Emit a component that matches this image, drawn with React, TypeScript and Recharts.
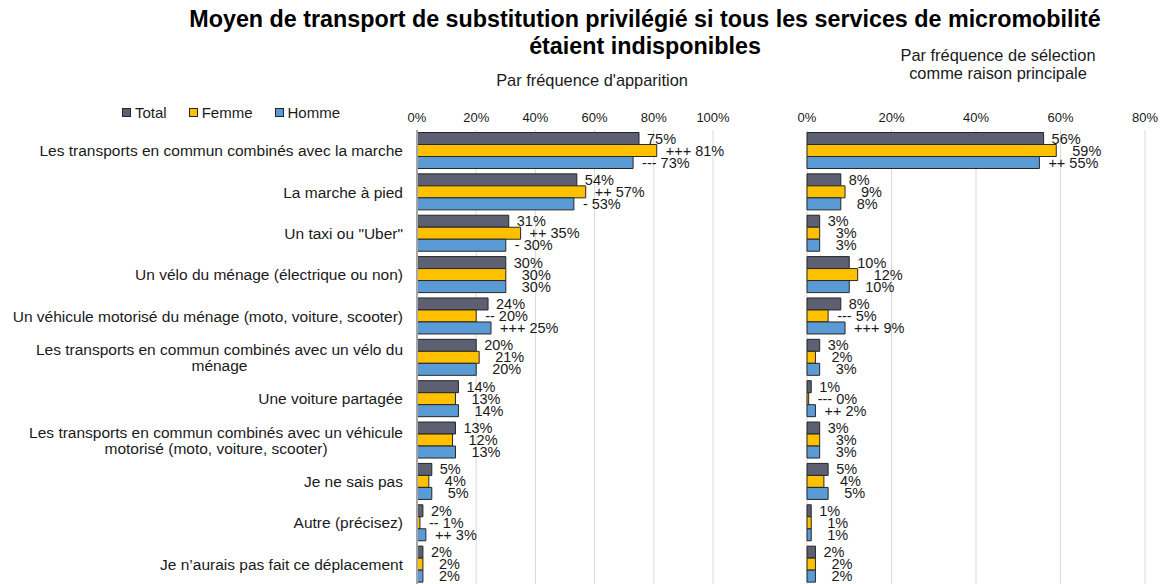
import { Bar, BarChart, CartesianGrid, LabelList, XAxis, YAxis } from "recharts";

const categories = [
  "Les transports en commun combinés avec la marche",
  "La marche à pied",
  'Un taxi ou "Uber"',
  "Un vélo du ménage (électrique ou non)",
  "Un véhicule motorisé du ménage (moto, voiture, scooter)",
  "Les transports en commun combinés avec un vélo du|ménage",
  "Une voiture partagée",
  "Les transports en commun combinés avec un véhicule|motorisé (moto, voiture, scooter)",
  "Je ne sais pas",
  "Autre (précisez)",
  "Je n’aurais pas fait ce déplacement",
];

// Par fréquence d'apparition
const apparitionTotal = [75, 54, 31, 30, 24, 20, 14, 13, 5, 2, 2];
const apparitionFemme = [81, 57, 35, 30, 20, 21, 13, 12, 4, 1, 2];
const apparitionHomme = [73, 53, 30, 30, 25, 20, 14, 13, 5, 3, 2];
const apparitionFemmeSig = ["+++", "++", "++", "", "--", "", "", "", "", "--", ""];
const apparitionHommeSig = ["---", "-", "-", "", "+++", "", "", "", "", "++", ""];

// Par fréquence de sélection comme raison principale
const principaleTotal = [56, 8, 3, 10, 8, 3, 1, 3, 5, 1, 2];
const principaleFemme = [59, 9, 3, 12, 5, 2, 0.4, 3, 4, 1, 2];
const principaleHomme = [55, 8, 3, 10, 9, 3, 2, 3, 5, 1, 2];
const principaleFemmeSig = ["", "", "", "", "---", "", "---", "", "", "", ""];
const principaleHommeSig = ["++", "", "", "", "+++", "", "++", "", "", "", ""];

const leftTicks = [0, 20, 40, 60, 80, 100];
const rightTicks = [0, 20, 40, 60, 80];

const FONT = '"Liberation Sans", Arial, sans-serif';
const C_TOTAL = "#5d6072";
const C_FEMME = "#ffc000";
const C_HOMME = "#5b9bd5";
const STROKE = "#262626";
const CAT_SIZE = 15.5;

const leftData = categories.map((c, i) => ({
  cat: c,
  total: apparitionTotal[i],
  femme: apparitionFemme[i],
  homme: apparitionHomme[i],
}));

const rightData = categories.map((c, i) => ({
  cat: c,
  total: principaleTotal[i],
  femme: principaleFemme[i],
  homme: principaleHomme[i],
}));

let ctx: CanvasRenderingContext2D | null = null;
function measure(text: string) {
  if (!ctx) ctx = document.createElement("canvas").getContext("2d");
  if (!ctx) return text.length * 7.5;
  ctx.font = `${CAT_SIZE}px ${FONT}`;
  return ctx.measureText(text).width;
}

function CategoryTick(props: any) {
  const { x, y, payload } = props;
  const lines = String(payload.value).split("|");
  const right = x - 6;
  if (lines.length === 1) {
    return (
      <text x={right} y={y} textAnchor="end" dominantBaseline="central" fontSize={CAT_SIZE} fill="#1a1a1a" fontFamily={FONT}>
        {lines[0]}
      </text>
    );
  }
  const w = Math.max(...lines.map(measure));
  const cx = right - w / 2;
  return (
    <g>
      {lines.map((l, i) => (
        <text key={i} x={cx} y={y - 8 + i * 16} textAnchor="middle" dominantBaseline="central" fontSize={CAT_SIZE} fill="#1a1a1a" fontFamily={FONT}>
          {l}
        </text>
      ))}
    </g>
  );
}

function makeLabel(sig: string[] | null) {
  return (props: any) => {
    const { x, y, width, height, value, index } = props;
    const s = sig ? sig[index] : "";
    const offset = sig === null ? 8 : s ? 9 : 16;
    const txt = (s ? s + " " : "") + Math.round(value) + "%";
    return (
      <text
        x={x + width + offset}
        y={y + height / 2}
        dominantBaseline="central"
        fontSize={14.5}
        fill="#1a1a1a"
        fontFamily={FONT}
      >
        {txt}
      </text>
    );
  };
}

function Panel(props: {
  data: any[];
  width: number;
  left: number;
  yWidth: number;
  marginLeft: number;
  marginRight: number;
  max: number;
  ticks: number[];
  femmeSig: string[];
  hommeSig: string[];
  showCats: boolean;
}) {
  return (
    <div style={{ position: "absolute", left: props.left, top: 0 }}>
      <BarChart
        width={props.width}
        height={590}
        data={props.data}
        layout="vertical"
        margin={{ top: 100, right: props.marginRight, bottom: 5, left: props.marginLeft }}
        barCategoryGap={2.5}
        barGap={0}
      >
        <CartesianGrid horizontal={false} stroke="#d9d9d9" />
        <XAxis
          type="number"
          orientation="top"
          domain={[0, props.max]}
          ticks={props.ticks}
          tickFormatter={(v) => v + "%"}
          height={30}
          axisLine={false}
          tickLine={false}
          tick={{ fontSize: 13, fill: "#1a1a1a", fontFamily: FONT }}
        />
        <YAxis
          type="category"
          dataKey="cat"
          width={props.yWidth}
          axisLine={{ stroke: "#a6a6a6", strokeWidth: 2 }}
          tickLine={false}
          tick={props.showCats ? <CategoryTick /> : false}
          interval={0}
        />
        <Bar dataKey="total" fill={C_TOTAL} stroke={STROKE} strokeWidth={1} isAnimationActive={false}>
          <LabelList dataKey="total" content={makeLabel(null)} />
        </Bar>
        <Bar dataKey="femme" fill={C_FEMME} stroke={STROKE} strokeWidth={1} isAnimationActive={false}>
          <LabelList dataKey="femme" content={makeLabel(props.femmeSig)} />
        </Bar>
        <Bar dataKey="homme" fill={C_HOMME} stroke={STROKE} strokeWidth={1} isAnimationActive={false}>
          <LabelList dataKey="homme" content={makeLabel(props.hommeSig)} />
        </Bar>
      </BarChart>
    </div>
  );
}

function LegendItem({ color, label }: { color: string; label: string }) {
  return (
    <span style={{ display: "inline-flex", alignItems: "center", marginRight: 22 }}>
      <span
        style={{
          width: 7,
          height: 7,
          background: color,
          border: `1px solid ${STROKE}`,
          marginRight: 4,
          display: "inline-block",
        }}
      />
      {label}
    </span>
  );
}

export default function App() {
  return (
    <div
      style={{
        position: "absolute",
        left: 0,
        top: 0,
        width: 1164,
        height: 584,
        overflow: "hidden",
        background: "#fff",
        fontFamily: FONT,
        color: "#1a1a1a",
      }}
    >
      <Panel
        data={leftData}
        width={790}
        left={0}
        yWidth={417}
        marginLeft={0}
        marginRight={77}
        max={100}
        ticks={leftTicks}
        femmeSig={apparitionFemmeSig}
        hommeSig={apparitionHommeSig}
        showCats
      />
      <Panel
        data={rightData}
        width={374}
        left={790}
        yWidth={0}
        marginLeft={17}
        marginRight={19}
        max={80}
        ticks={rightTicks}
        femmeSig={principaleFemmeSig}
        hommeSig={principaleHommeSig}
        showCats={false}
      />
      <div
        style={{
          position: "absolute",
          left: 0,
          width: 1290,
          top: 6,
          textAlign: "center",
          fontWeight: "bold",
          fontSize: 23.3,
          lineHeight: "27px",
          color: "#000",
        }}
      >
        Moyen de transport de substitution privilégié si tous les services de micromobilité
        <br />
        étaient indisponibles
      </div>
      <div style={{ position: "absolute", left: 392, width: 400, top: 71, textAlign: "center", fontSize: 16.4 }}>
        Par fréquence d'apparition
      </div>
      <div
        style={{
          position: "absolute",
          left: 798,
          width: 400,
          top: 46,
          textAlign: "center",
          fontSize: 16.4,
          lineHeight: "18px",
        }}
      >
        Par fréquence de sélection
        <br />
        comme raison principale
      </div>
      <div style={{ position: "absolute", left: 122, top: 104, fontSize: 15, display: "flex" }}>
        <LegendItem color={C_TOTAL} label="Total" />
        <LegendItem color={C_FEMME} label="Femme" />
        <LegendItem color={C_HOMME} label="Homme" />
      </div>
    </div>
  );
}
